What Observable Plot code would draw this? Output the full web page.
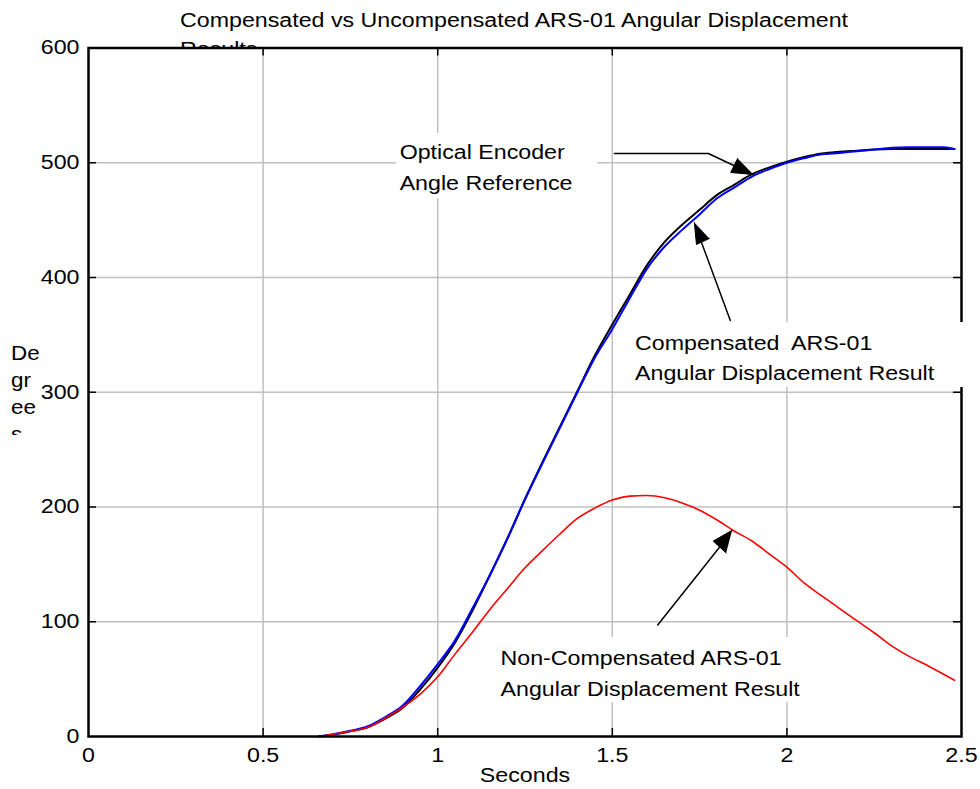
<!DOCTYPE html>
<html><head><meta charset="utf-8">
<script src="https://cdn.jsdelivr.net/npm/d3@7"></script>
<script src="https://cdn.jsdelivr.net/npm/@observablehq/plot@0.6"></script>
<style>
html,body{margin:0;padding:0;background:#fff;overflow:hidden}
#wrap{position:relative;width:980px;height:789px;font-family:"Liberation Sans",Arial,sans-serif;color:#000}
.title{position:absolute;left:180px;font-size:20px;line-height:25px;white-space:nowrap;transform:scaleX(1.16);transform-origin:0 0}
#chart{position:absolute;left:0;top:0}
#ylab{position:absolute;left:11px;top:340px;height:95px;overflow:hidden;font-size:20px;line-height:27px;transform:scaleX(1.12);transform-origin:0 0}
</style></head>
<body><div id="wrap">
<div class="title" style="top:8px">Compensated vs Uncompensated ARS-01 Angular Displacement</div>
<div class="title" style="top:37px">Results</div>
<div id="chart"></div>
<div id="ylab">De<br>gr<br>ee<br>s</div>
</div>
<script>
// ---- data ----
const time = [0.66,0.70,0.75,0.80,0.85,0.90,0.95,1.00,1.05,1.10,1.15,1.20,1.25,1.30,1.35,1.40,1.45,1.50,1.55,1.60,1.65,1.70,1.75,1.80,1.85,1.90,1.95,2.00,2.05,2.10,2.15,2.20,2.25,2.30,2.35,2.40,2.45,2.48];
const encoder = [0,1.5,4.5,8,15.5,25,41,60,82,110,141,173,207,239,270,301,332,359,385,411,431,446,459,472,481,490,496,501,505,508,509.5,510.5,511.5,512,512,512,512,512];
const compensated = [0,2,5,9,17,27,44,63,84,112,141,172.5,206.5,238,269,300,330,355,382,408,427,441.5,455,469,478.6,488,494.5,500,504,507.3,508.5,510,511.5,513,513.5,513.5,513.5,512];
const uncompensated = [0,2,4.5,8,16,25.5,37,52,72,91,111,129,147,162,176.5,190,199,206,209.5,210,208,203.5,197.2,188.7,178.9,170.4,159,147.6,133.6,122.5,111.7,101,90.4,79,69.8,62.3,54,49];
const xTicks = [0,0.5,1,1.5,2,2.5];
const yTicks = [0,100,200,300,400,500,600];
const xGrid = [0.5,1,1.5,2];
const yGrid = [100,200,300,400,500];
const xLabel = "Seconds";
const annotationText = ["Optical Encoder","Angle Reference","Compensated  ARS-01","Angular Displacement Result","Non-Compensated ARS-01","Angular Displacement Result"];

// ---- annotation layout (data units) ----
const labels = [
  {x:0.891,y:509.0,text:annotationText[0]},
  {x:0.891,y:481.4,text:annotationText[1]},
  {x:1.565,y:342.6,text:annotationText[2]},
  {x:1.565,y:316.4,text:annotationText[3]},
  {x:1.180,y:67.8,text:annotationText[4]},
  {x:1.180,y:41.2,text:annotationText[5]}
];
const boxes = [
  {x1:0.882,x2:1.458,y1:468.8,y2:525.5},
  {x1:1.552,x2:2.540,y1:304.1,y2:360.8},
  {x1:1.157,x2:2.053,y1:29.6,y2:86.3}
];
const leaders = [
  {id:"a",x:1.506,y:508.1},{id:"a",x:1.775,y:508.1},{id:"a",x:1.880,y:493},
  {id:"b",x:1.838,y:362.5},{id:"b",x:1.750,y:435},
  {id:"c",x:1.630,y:97.2},{id:"c",x:1.815,y:168}
];
const heads = [
  {id:"a",x:1.904,y:489.8},{id:"a",x:1.839,y:491.5},{id:"a",x:1.859,y:503.7},
  {id:"b",x:1.735,y:447.9},{id:"b",x:1.741,y:428.8},{id:"b",x:1.778,y:434.0},
  {id:"c",x:1.843,y:179.7},{id:"c",x:1.789,y:170.3},{id:"c",x:1.826,y:159.9}
];
const tickX = 7, tickY = 0.023;

const chart = Plot.plot({
  width: 980, height: 789,
  marginTop: 47.5, marginBottom: 53, marginLeft: 88, marginRight: 19,
  style: {background: "transparent", fontFamily: '"Liberation Sans", Arial, sans-serif', fontSize: "20px", color: "black"},
  x: {domain: [0, 2.5], ticks: xTicks, tickSize: 0, tickPadding: 11, tickFormat: d => String(d), label: null},
  y: {domain: [0, 600], ticks: yTicks, tickSize: 0, tickPadding: 9, tickFormat: d => String(d), label: null},
  marks: [
    Plot.frame({fill: "white", stroke: "none"}),
    Plot.ruleX(xGrid, {x: d => d, stroke: "#c0c0c0", strokeWidth: 1.5}),
    Plot.ruleY(yGrid, {y: d => d, stroke: "#c0c0c0", strokeWidth: 1.5}),
    Plot.line(time, {x: time, y: encoder, stroke: "black", strokeWidth: 2, curve: "monotone-x"}),
    Plot.line(time, {x: time, y: compensated, stroke: "#0000ff", strokeWidth: 2, curve: "monotone-x"}),
    Plot.line(time, {x: time, y: uncompensated, stroke: "#ff0000", strokeWidth: 1.6, curve: "monotone-x"}),
    Plot.ruleX(xGrid, {x: d => d, y1: 0, y2: tickX, stroke: "black", strokeWidth: 1.5}),
    Plot.ruleX(xGrid, {x: d => d, y1: 600 - tickX, y2: 600, stroke: "black", strokeWidth: 1.5}),
    Plot.ruleY(yGrid, {y: d => d, x1: 0, x2: tickY, stroke: "black", strokeWidth: 1.5}),
    Plot.ruleY(yGrid, {y: d => d, x1: 2.5 - tickY, x2: 2.5, stroke: "black", strokeWidth: 1.5}),
    Plot.frame({stroke: "black", strokeWidth: 2.5}),
    Plot.rect(boxes, {x1: "x1", x2: "x2", y1: "y1", y2: "y2", fill: "white"}),
    Plot.text(labels, {x: "x", y: "y", text: "text", textAnchor: "start", fontSize: 20, fill: "black"}),
    Plot.text([xLabel], {text: d => d, frameAnchor: "bottom", dy: 45, fontSize: 20, fill: "black"}),
    Plot.line(leaders, {x: "x", y: "y", z: "id", stroke: "black", strokeWidth: 1.5}),
    Plot.line(heads, {x: "x", y: "y", z: "id", fill: "black", stroke: "black", strokeWidth: 1})
  ]
});
document.getElementById("chart").appendChild(chart);
chart.querySelectorAll("text").forEach(t => {
  const w = t.getComputedTextLength();
  if (w > 0) {
    t.setAttribute("textLength", (w * 1.16).toFixed(1));
    t.setAttribute("lengthAdjust", "spacingAndGlyphs");
  }
});
</script>
</body></html>
